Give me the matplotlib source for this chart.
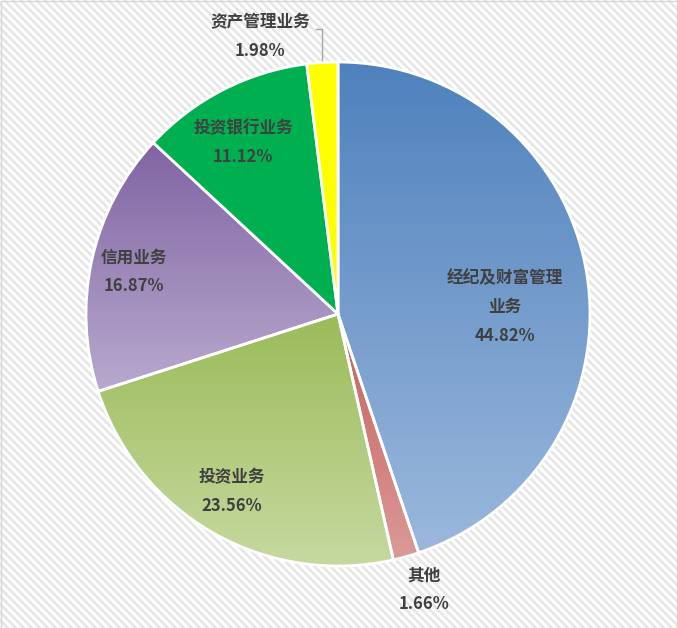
import numpy as np
import matplotlib
matplotlib.use("Agg")
import matplotlib.pyplot as plt
from matplotlib.colors import LinearSegmentedColormap
from matplotlib.patches import Rectangle
from matplotlib.collections import LineCollection

plt.rcParams['font.family'] = ['Noto Sans CJK SC', 'DejaVu Sans']

labels = ['经纪及财富管理\n业务', '其他', '投资业务', '信用业务', '投资银行业务', '资产管理业务']
values = [44.82, 1.66, 23.56, 16.87, 11.12, 1.98]
# (top colour, bottom colour) of the vertical gradient per slice
top_colors = ['#4F81BD', '#C4605D', '#9BBB59', '#8064A2', '#00B050', '#FFFF00']
bottom_colors = ['#9BB8DC', '#DB9A98', '#C8DAA2', '#B8A9CE', '#00B050', '#FFFF00']
# label centres in pixels (x, y from top)
label_pos = [(505, 307), (424, 590), (232, 492), (134, 272), (243, 143), (260, 37)]

W, H = 677, 628
fig = plt.figure(figsize=(W / 100, H / 100), dpi=100)
ax = fig.add_axes([0, 0, 1, 1])

# striped background (diagonal, top-left to bottom-right) + border
segs = [[(k, H), (k + H, 0)] for k in np.arange(-H, W + 8, 8)]
ax.add_collection(LineCollection(segs, colors='#E6E6E6', linewidths=2.0, zorder=0))
ax.add_patch(Rectangle((0.5, 0.5), W - 1, H - 1, facecolor='none',
                       edgecolor='#D9D9D9', lw=1, zorder=10))

cx, cy, r = 338, H - 314, 252
wedges, _ = ax.pie(values, startangle=90, counterclock=False, center=(cx, cy),
                   radius=r, colors=top_colors, frame=True,
                   wedgeprops=dict(edgecolor='white', linewidth=2, zorder=1))

for w, c0, c1 in zip(wedges, top_colors, bottom_colors):
    if c0 == c1:
        continue
    verts = w.get_path().vertices
    x0, x1 = verts[:, 0].min(), verts[:, 0].max()
    y0, y1 = verts[:, 1].min(), verts[:, 1].max()
    cmap = LinearSegmentedColormap.from_list('g', [c0, c1])
    grad = np.linspace(0, 1, 256).reshape(-1, 1)
    im = ax.imshow(grad, cmap=cmap, extent=(x0, x1, y0, y1), origin='upper',
                   aspect='auto', zorder=w.get_zorder() - 0.01)
    im.set_clip_path(w)
    w.set_facecolor('none')

ax.set_xlim(0, W)
ax.set_ylim(0, H)
ax.axis('off')

for lab, v, (px, py) in zip(labels, values, label_pos):
    ax.text(px, H - py, f'{lab}\n{v:.2f}%', ha='center', va='center',
            fontsize=12, fontweight='heavy', color='#404040',
            linespacing=1.78, zorder=5)

# leader line for the small slice at the top
ax.plot([316, 322, 322], [H - 29, H - 29, H - 60], color='#A6A6A6', lw=1, zorder=4)

fig.savefig('out.png', dpi=100, facecolor='white')
